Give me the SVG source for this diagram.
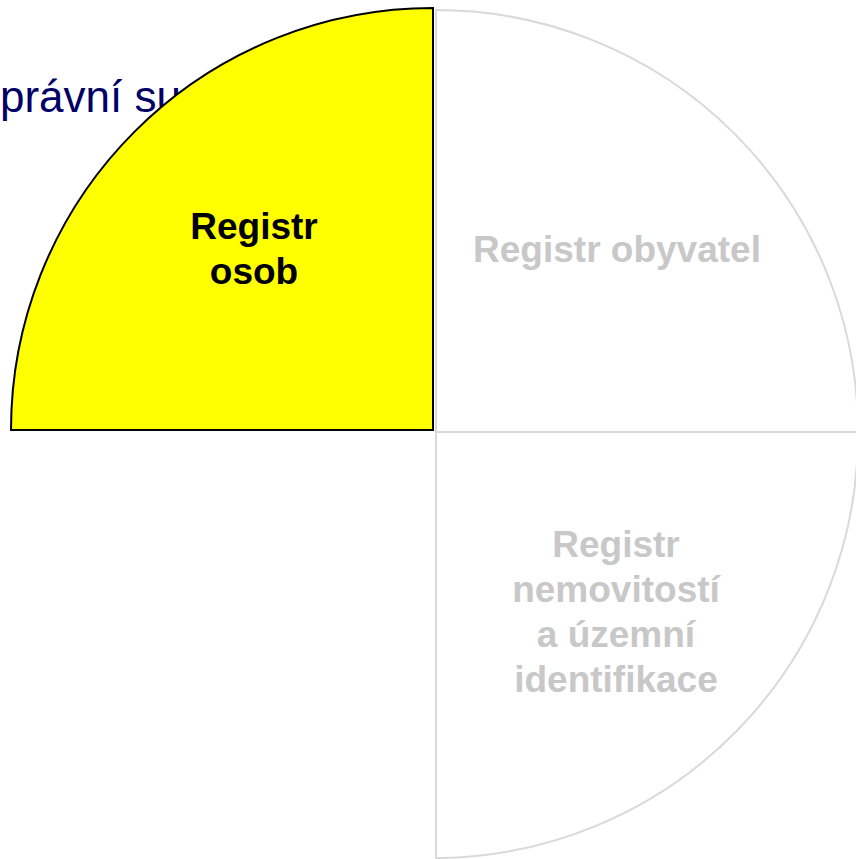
<svg xmlns="http://www.w3.org/2000/svg" width="856" height="859" viewBox="0 0 856 859">
<style>
.t{font-family:"Liberation Sans",Arial,sans-serif;font-weight:bold;font-size:37px;text-anchor:middle}
.g{fill:#c8c8c8}
.q{fill:#ffffff;stroke:#d9d9d9;stroke-width:2}
</style>
<rect width="856" height="859" fill="#ffffff"/>
<text x="0" y="112" font-family="Liberation Sans,Arial,sans-serif" font-size="44" fill="#000066">právní su</text>
<g id="q-tr">
<path class="q" d="M436,10 V432 H858 A422,422 0 0 0 436,10 Z"/>
<text class="t g" x="617" y="262">Registr obyvatel</text>
</g>
<g id="q-br">
<path class="q" d="M436,432 V858 H440 A424,424 0 0 0 858,432 Z"/>
<text class="t g"><tspan x="616" y="557">Registr</tspan><tspan x="616" y="602">nemovitostí</tspan><tspan x="616" y="647">a územní</tspan><tspan x="616" y="692">identifikace</tspan></text>
</g>
<g id="q-tl">
<path d="M433,8 V430 H11 A422,422 0 0 1 433,8 Z" fill="#ffff00" stroke="#000000" stroke-width="2"/>
<text class="t" fill="#000000"><tspan x="254" y="239">Registr</tspan><tspan x="254" y="284">osob</tspan></text>
</g>
</svg>
